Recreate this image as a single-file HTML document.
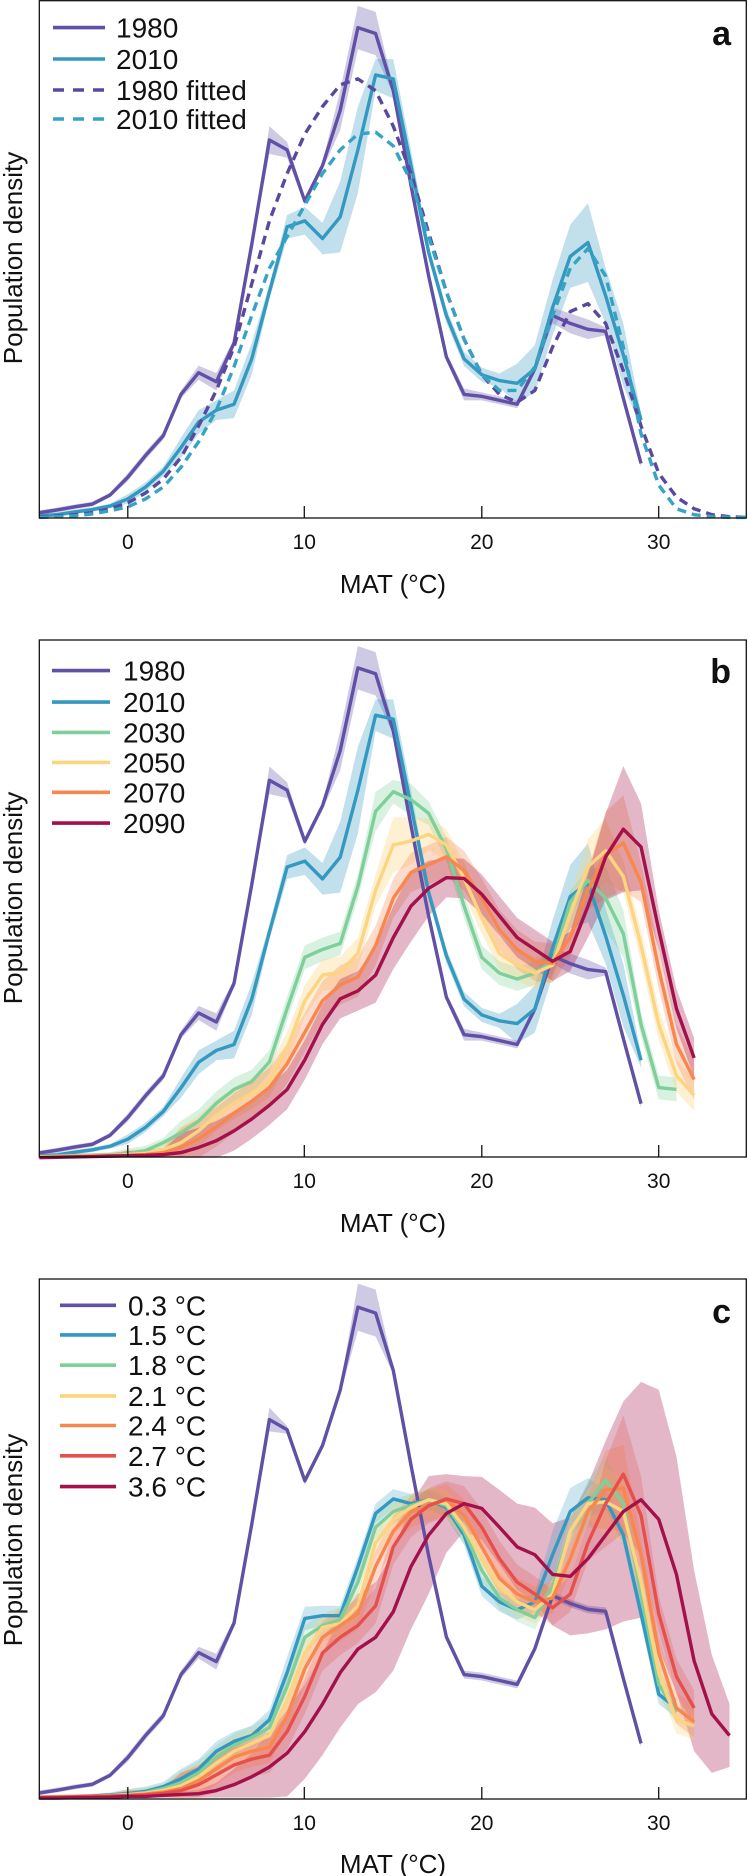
<!DOCTYPE html>
<html><head><meta charset="utf-8"><style>
html,body{margin:0;padding:0;background:#fff;}
svg{display:block;}
text{font-family:"Liberation Sans",sans-serif;fill:#111;}
</style></head><body>
<svg id="s" xmlns="http://www.w3.org/2000/svg" width="748" height="1876" viewBox="0 0 748 1876">
<rect width="748" height="1876" fill="#fff"/>
<g id="pa" transform="translate(0,0) scale(0.477,0.3944)"></g>
<g id="pb" transform="translate(0,630) scale(0.477,0.3944)"></g>
<g id="pc" transform="translate(0,1260) scale(0.477,0.393)"></g>
<g id="fr" fill="none" stroke="#111" stroke-width="1.3"></g>
<g id="tx"></g>
</svg>
<script>
var NS="http://www.w3.org/2000/svg";
function el(p,n,a){var e=document.createElementNS(NS,n);for(var k in a)e.setAttribute(k,a[k]);p.appendChild(e);return e;}
function X(t){return 268+37.1*t;}
function hwf(spec,def,t){var v=def;for(var k in spec){if(+k===t)v=spec[k];}if(t<0)v=Math.min(v,6);else if(t<3)v=Math.min(v,12);return v;}
function band(g,arr,t0,spec,def,col,op,axis){
 var up=[],lo=[];
 for(var i=0;i<arr.length;i++){var t=t0+i,h=hwf(spec,def,t);up.push(X(t)+","+(arr[i]-h));lo.unshift(X(t)+","+Math.min(axis,arr[i]+h));}
 el(g,"polygon",{points:up.concat(lo).join(" "),fill:col,"fill-opacity":op,stroke:"none"});
}
function line(g,arr,t0,col,dash){
 var p=[];for(var i=0;i<arr.length;i++)p.push(X(t0+i)+","+arr[i]);
 var a={points:p.join(" "),fill:"none",stroke:col,"stroke-width":3.4,"vector-effect":"non-scaling-stroke","stroke-linejoin":"round"};
 if(dash)a["stroke-dasharray"]="9,6";
 el(g,"polyline",a);
}
function off(arr,o){return arr.map(function(v){return v+o;});}
var P="#6150a6",B="#3399c0",G="#7fcf9b",Y="#fdd47f",O="#f8874f",R="#e5504c",C="#a3104a";
var a1980=[1300,1293,1285,1278,1255,1210,1155,1105,1000,945,968,870,620,355,380,510,420,280,70,85,230,470,700,905,1000,1005,1015,1025,935,800,820,835,840,1010,1175];
var a2010=[1308,1305,1298,1292,1283,1265,1235,1195,1135,1070,1040,1025,910,740,575,560,605,550,380,190,200,420,640,800,910,950,965,972,935,780,650,615,750,900,1065];
var f1980=[1310,1308,1305,1300,1290,1275,1250,1215,1160,1080,990,880,720,560,440,340,270,215,200,230,320,440,590,740,860,950,1000,1020,990,880,790,770,820,940,1080,1200,1260,1290,1305,1310,1312];
var f2010=[1312,1310,1308,1303,1295,1285,1265,1235,1185,1120,1040,930,800,680,600,520,440,380,340,335,370,460,600,740,860,950,990,990,930,800,680,630,700,880,1100,1230,1290,1305,1310,1312,1312];
var s1980={4:18,5:22,8:35,9:20,12:50,13:55,14:55,24:20,25:25,26:25,19:15};
var s2010={9:30,10:35,11:40,12:90,13:110,14:40,15:50,16:40,22:50,23:60,24:70,25:80,26:100,27:70,28:80,3:25,4:30,5:25,6:35,7:40};
var g=document.getElementById("pa");
band(g,a1980,-5,s1980,10,P,0.3,1312);
band(g,a2010,-5,s2010,18,B,0.3,1312);
line(g,a1980,-5,P);line(g,a2010,-5,B);
line(g,f1980,-5,"#5a48a0",1);line(g,f2010,-5,"#35a4c4",1);
g=document.getElementById("pb");
var b30=[1335,1334,1333,1332,1330,1327,1320,1300,1275,1245,1200,1165,1145,1095,960,830,810,795,650,460,410,430,465,555,700,830,870,885,870,840,690,635,680,770,1000,1160,1165];
var b50=[1336,1335,1334,1333,1332,1330,1327,1318,1300,1270,1230,1200,1175,1145,1060,940,875,868,820,660,545,535,518,545,630,730,820,850,870,850,720,600,560,625,800,1000,1130,1180];
var b70=[1337,1336,1335,1334,1333,1332,1330,1325,1312,1290,1260,1225,1195,1160,1100,1020,940,900,880,800,680,615,595,575,610,680,760,810,840,845,780,660,570,540,640,860,1050,1140];
var b90=[1338,1337,1336,1335,1334,1333,1332,1330,1325,1312,1295,1270,1240,1205,1165,1090,1000,935,915,875,780,700,655,628,630,670,725,780,810,840,815,700,575,505,550,760,960,1085];
band(g,off(a1980,26),-5,s1980,10,P,0.3,1338);
band(g,off(a2010,26),-5,s2010,18,B,0.3,1338);
band(g,b30,-5,{14:50,15:30,16:40,27:80,28:60},30,G,0.3,1338);
band(g,b50,-5,{15:70,16:60,26:70,27:80},40,Y,0.35,1338);
band(g,b70,-5,{27:110,28:120},50,O,0.3,1338);
band(g,b90,-5,{14:70,15:80,16:90,17:70,26:80,27:110,28:160,29:110},50,C,0.3,1338);
line(g,off(a1980,26),-5,P);line(g,off(a2010,26),-5,B);
line(g,b30,-5,G);line(g,b50,-5,Y);line(g,b70,-5,O);line(g,b90,-5,C);
g=document.getElementById("pc");
var c03=a1980.map(function(v){return Math.round(1368-(1312-v)*1.0048);});
var head=[1368,1367,1366,1364,1361,1358,1352,1340];
var c15=head.concat([1320,1295,1250,1225,1210,1170,1050,912,905,905,780,645,608,620,610,630,700,830,870,890,870,750,640,605,610,700,900,1105,1140]);
var c18=[1368,1367,1366,1365,1362,1360,1355,1345].concat([1330,1305,1265,1235,1215,1190,1085,960,930,915,820,680,640,625,610,625,690,790,860,890,910,830,690,620,560,620,850,1080,1150]);
var c21=[1368,1367,1366,1365,1363,1361,1357,1350].concat([1338,1315,1280,1250,1230,1210,1120,1000,935,925,880,720,660,630,610,620,680,760,830,870,890,850,690,620,615,640,820,1050,1170,1185]);
var c24=[1368,1367,1366,1365,1364,1362,1359,1354].concat([1345,1325,1295,1265,1250,1240,1160,1040,960,930,900,780,690,640,625,610,650,730,810,850,870,860,760,640,585,580,750,1000,1140,1175]);
var c27=[1368,1367,1366,1365,1364,1363,1361,1357].concat([1350,1335,1310,1285,1270,1260,1200,1110,1000,960,930,880,730,660,625,608,620,680,760,820,850,885,850,720,620,545,650,900,1060,1140]);
var c36=[1369,1369,1368,1368,1367,1365,1365,1362,1360,1358,1350,1335,1315,1290,1255,1200,1130,1050,990,960,895,780,700,645,620,632,680,730,750,800,805,760,700,640,610,660,800,1020,1155,1210];
band(g,c03,-5,{8:30,13:60,14:60,4:15,5:20},10,P,0.3,1368);
band(g,c36,-5,{3:8,4:10,5:20,6:40,7:60,8:90,9:110,10:120,11:130,12:140,13:140,14:140,15:150,16:160,17:150,18:100,19:70,20:80,21:95,22:110,23:120,24:130,25:150,26:190,27:240,28:280,29:300,30:330,31:300,32:230,33:150,34:80},8,C,0.3,1368);
band(g,c15,-5,{9:40,10:30,24:60,25:60,26:50},25,B,0.25,1368);
band(g,c18,-5,{26:60,27:60},30,G,0.25,1368);
band(g,c21,-5,{27:90,28:80},35,Y,0.3,1368);
band(g,c24,-5,{27:100,28:110},40,O,0.3,1368);
band(g,c27,-5,{27:110,28:150,29:100},45,R,0.25,1368);
line(g,c03,-5,P);line(g,c15,-5,B);line(g,c18,-5,G);line(g,c21,-5,Y);line(g,c24,-5,O);line(g,c27,-5,R);line(g,c36,-5,C);
var fr=document.getElementById("fr"),tx=document.getElementById("tx");
var panels=[[0.7,518,549,593,258,"a",45],[640,1157,1188,1232,898,"b",683],[1279,1799,1830,1873,1540,"c",1323]];
var ticks=[[127.8,"0"],[304.3,"10"],[481.8,"20"],[658.7,"30"]];
panels.forEach(function(p){
 el(fr,"rect",{x:39.3,y:p[0],width:707,height:p[1]-p[0]});
 ticks.forEach(function(t){el(fr,"line",{x1:t[0],y1:p[1],x2:t[0],y2:p[1]-12});
  var e=el(tx,"text",{x:t[0],y:p[2],"text-anchor":"middle","font-size":21});e.textContent=t[1];});
 var e=el(tx,"text",{x:393,y:p[3],"text-anchor":"middle","font-size":26});e.textContent="MAT (°C)";
 e=el(tx,"text",{x:0,y:0,"text-anchor":"middle","font-size":26,transform:"translate(22,"+p[4]+") rotate(-90)"});e.textContent="Population density";
 e=el(tx,"text",{x:731,y:p[6],"text-anchor":"end","font-size":34,"font-weight":"bold"});e.textContent=p[5];
});
function leg(x1,x2,tx0,ys,items){items.forEach(function(it,i){
 var a={x1:x1,x2:x2,y1:ys[i],y2:ys[i],stroke:it[1],"stroke-width":3.6};if(it[2])a["stroke-dasharray"]="11,9";
 el(tx,"line",a);var e=el(tx,"text",{x:tx0,y:ys[i]+10,"font-size":28});e.textContent=it[0];});}
leg(53,105,116,[27.6,59,90,119],[["1980",P],["2010",B],["1980 fitted","#5a48a0",1],["2010 fitted","#35a4c4",1]]);
leg(52,110,123,[670.6,702.1,732.4,762.4,792.3,823.1],[["1980",P],["2010",B],["2030",G],["2050",Y],["2070",O],["2090",C]]);
leg(60,116,128,[1305.3,1334.9,1365.2,1395.9,1425.5,1455.8,1486.6],[["0.3 °C",P],["1.5 °C",B],["1.8 °C",G],["2.1 °C",Y],["2.4 °C",O],["2.7 °C",R],["3.6 °C",C]]);
</script>
</body></html>
